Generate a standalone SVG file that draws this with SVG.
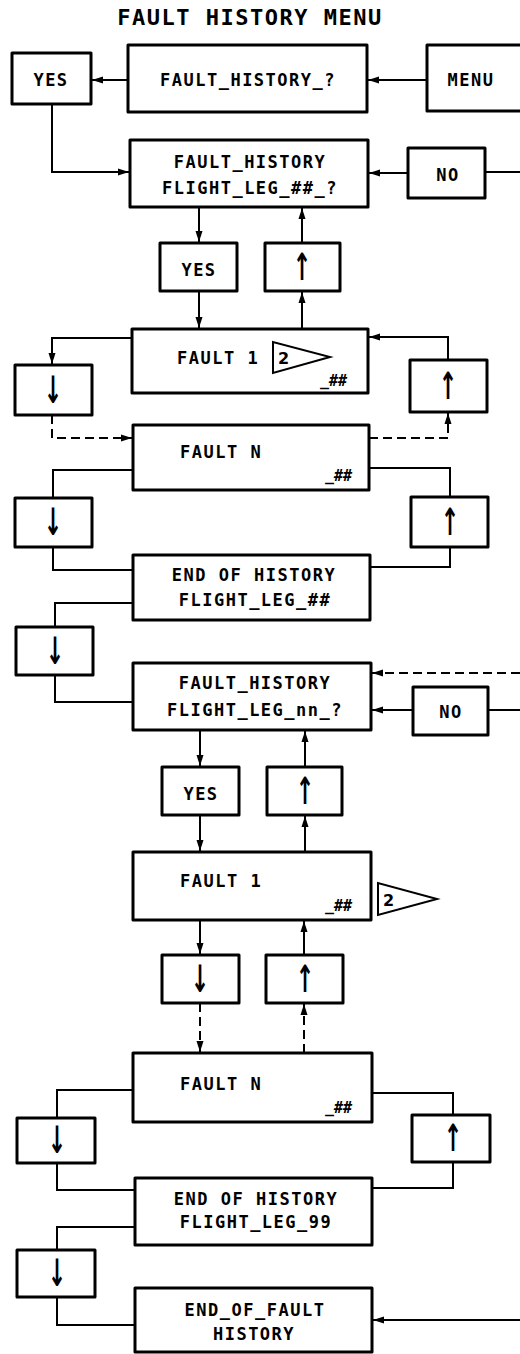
<svg xmlns="http://www.w3.org/2000/svg" width="520" height="1354" viewBox="0 0 520 1354">
<style>
.bg{fill:#fff}
.box{fill:#fff;stroke:#000;stroke-width:3;stroke-linejoin:round}
.t{font-family:"DejaVu Sans Mono","Liberation Mono",monospace;font-weight:bold;font-size:17px;letter-spacing:1.5px;fill:#000}
.c{text-anchor:middle}
.hh{font-family:"DejaVu Sans Mono","Liberation Mono",monospace;font-weight:bold;font-style:italic;font-size:15px;fill:#000;text-anchor:end}
.ar{font-family:"DejaVu Sans","Liberation Sans",sans-serif;font-weight:bold;font-size:26px;fill:#000;text-anchor:middle}
.title{font-family:"DejaVu Sans Mono","Liberation Mono",monospace;font-weight:bold;font-size:22px;letter-spacing:1.5px;fill:#000;text-anchor:middle}
.tri{fill:#fff;stroke:#000;stroke-width:2;stroke-linejoin:miter}
.two{font-family:"DejaVu Sans","Liberation Sans",sans-serif;font-weight:bold;font-size:16px;fill:#000}
.ln{fill:none;stroke:#000;stroke-width:2}
.dl{fill:none;stroke:#000;stroke-width:2;stroke-dasharray:9 5}
</style>
<defs>
<marker id="ah" markerUnits="userSpaceOnUse" markerWidth="12" markerHeight="8" refX="11" refY="4" orient="auto">
<path d="M0,0.5 L11,4 L0,7.5 z" fill="#000"/>
</marker>
</defs>
<rect class="bg" x="0" y="0" width="520" height="1354"/>
<text id="title" class="title" x="250" y="25">FAULT HISTORY MENU</text>

<g id="connectors">
<path class="ln" d="M427,80 L368,80" marker-end="url(#ah)"/>
<path class="ln" d="M128,80 L92,80" marker-end="url(#ah)"/>
<path class="ln" d="M52,104 L52,172 L129,172" marker-end="url(#ah)"/>
<path class="ln" d="M408,173 L369,173" marker-end="url(#ah)"/>
<path class="ln" d="M485,172 L520,172"/>
<path class="ln" d="M199,207 L199,242" marker-end="url(#ah)"/>
<path class="ln" d="M302,243 L302,208" marker-end="url(#ah)"/>
<path class="ln" d="M199,291 L199,328" marker-end="url(#ah)"/>
<path class="ln" d="M302,329 L302,292" marker-end="url(#ah)"/>
<path class="ln" d="M132,338 L52,338 L52,364" marker-end="url(#ah)"/>
<path class="ln" d="M448,360 L448,337 L369,337" marker-end="url(#ah)"/>
<path class="dl" d="M52,415 L52,438 L132,438" marker-end="url(#ah)"/>
<path class="dl" d="M369,438 L448,438 L448,413" marker-end="url(#ah)"/>
<path class="ln" d="M133,470 L53,470 L53,498"/>
<path class="ln" d="M369,468 L450,468 L450,497"/>
<path class="ln" d="M53,547 L53,570 L133,570"/>
<path class="ln" d="M450,547 L450,567 L370,567"/>
<path class="ln" d="M133,603 L55,603 L55,627"/>
<path class="ln" d="M55,675 L55,702 L133,702"/>
<path class="dl" d="M520,673 L372,673" marker-end="url(#ah)"/>
<path class="ln" d="M413,710 L372,710" marker-end="url(#ah)"/>
<path class="ln" d="M488,710 L520,710"/>
<path class="ln" d="M200,730 L200,766" marker-end="url(#ah)"/>
<path class="ln" d="M305,767 L305,731" marker-end="url(#ah)"/>
<path class="ln" d="M200,815 L200,851" marker-end="url(#ah)"/>
<path class="ln" d="M305,852 L305,816" marker-end="url(#ah)"/>
<path class="ln" d="M200,920 L200,954" marker-end="url(#ah)"/>
<path class="ln" d="M304,955 L304,921" marker-end="url(#ah)"/>
<path class="dl" d="M200,1003 L200,1052" marker-end="url(#ah)"/>
<path class="dl" d="M304,1053 L304,1004" marker-end="url(#ah)"/>
<path class="ln" d="M133,1090 L57,1090 L57,1118"/>
<path class="ln" d="M372,1093 L453,1093 L453,1115"/>
<path class="ln" d="M57,1163 L57,1190 L135,1190"/>
<path class="ln" d="M453,1162 L453,1188 L372,1188"/>
<path class="ln" d="M135,1227 L57,1227 L57,1250"/>
<path class="ln" d="M57,1297 L57,1325 L135,1325"/>
<path class="ln" d="M520,1320 L373,1320" marker-end="url(#ah)"/>
</g>

<g id="n_yes1"><rect class="box" x="12" y="53" width="79" height="51"/><text class="t c" x="51" y="86">YES</text></g>
<g id="n_fh"><rect class="box" x="128" y="45" width="239" height="67"/><text class="t c" x="248" y="86">FAULT_HISTORY_?</text></g>
<g id="n_menu"><rect class="box" x="427" y="45" width="110" height="66"/><text class="t c" x="471" y="86">MENU</text></g>

<g id="n_fhleg"><rect class="box" x="130" y="140" width="238" height="67"/><text class="t c" x="250" y="168">FAULT_HISTORY</text><text class="t c" x="250" y="194">FLIGHT_LEG_##_?</text></g>
<g id="n_no1"><rect class="box" x="408" y="148" width="77" height="50"/><text class="t c" x="448" y="181">NO</text></g>

<g id="n_yes2"><rect class="box" x="160" y="243" width="77" height="48"/><text class="t c" x="199" y="276">YES</text></g>
<g id="n_up1"><rect class="box" x="265" y="243" width="75" height="48"/><text class="ar" transform="translate(302,267) scale(0.85,1.45)" x="0" y="9">↑</text></g>

<g id="n_fault1"><rect class="box" x="132" y="329" width="236" height="64"/><text class="t" x="177" y="364">FAULT 1</text>
<polygon class="tri" points="273,342 273,373 330,357"/><text class="two" x="278" y="364">2</text>
<text class="hh" x="347" y="386">_##</text></g>
<g id="n_l1"><rect class="box" x="15" y="365" width="77" height="50"/><text class="ar" transform="translate(53,390) scale(0.85,1.45)" x="0" y="9">↓</text></g>
<g id="n_r1"><rect class="box" x="410" y="360" width="77" height="52"/><text class="ar" transform="translate(448,386) scale(0.85,1.45)" x="0" y="9">↑</text></g>

<g id="n_faultn"><rect class="box" x="133" y="425" width="236" height="65"/><text class="t" x="180" y="458">FAULT N</text><text class="hh" x="352" y="481">_##</text></g>
<g id="n_l2"><rect class="box" x="15" y="498" width="77" height="49"/><text class="ar" transform="translate(53,522) scale(0.85,1.45)" x="0" y="9">↓</text></g>
<g id="n_r2"><rect class="box" x="411" y="497" width="77" height="50"/><text class="ar" transform="translate(450,522) scale(0.85,1.45)" x="0" y="9">↑</text></g>

<g id="n_end1"><rect class="box" x="133" y="555" width="237" height="65"/><text class="t c" x="254" y="581">END OF HISTORY</text><text class="t c" x="255" y="606">FLIGHT_LEG_##</text></g>
<g id="n_l3"><rect class="box" x="16" y="627" width="77" height="48"/><text class="ar" transform="translate(55,651) scale(0.85,1.45)" x="0" y="9">↓</text></g>

<g id="n_fhleg2"><rect class="box" x="133" y="663" width="238" height="67"/><text class="t c" x="255" y="689">FAULT_HISTORY</text><text class="t c" x="255" y="716">FLIGHT_LEG_nn_?</text></g>
<g id="n_no2"><rect class="box" x="413" y="687" width="75" height="48"/><text class="t c" x="451" y="718">NO</text></g>

<g id="n_yes3"><rect class="box" x="162" y="767" width="77" height="48"/><text class="t c" x="201" y="800">YES</text></g>
<g id="n_up2"><rect class="box" x="267" y="767" width="75" height="48"/><text class="ar" transform="translate(305,791) scale(0.85,1.45)" x="0" y="9">↑</text></g>

<g id="n_fault1b"><rect class="box" x="133" y="852" width="238" height="68"/><text class="t" x="180" y="887">FAULT 1</text><text class="hh" x="352" y="911">_##</text></g>
<g id="n_tri2"><polygon class="tri" points="378,883 378,915 437,899"/><text class="two" x="383" y="906">2</text></g>
<g id="n_dm"><rect class="box" x="162" y="955" width="77" height="48"/><text class="ar" transform="translate(200,979) scale(0.85,1.45)" x="0" y="9">↓</text></g>
<g id="n_um"><rect class="box" x="266" y="955" width="77" height="48"/><text class="ar" transform="translate(305,979) scale(0.85,1.45)" x="0" y="9">↑</text></g>

<g id="n_faultn2"><rect class="box" x="133" y="1053" width="239" height="69"/><text class="t" x="180" y="1090">FAULT N</text><text class="hh" x="352" y="1113">_##</text></g>
<g id="n_l4"><rect class="box" x="17" y="1118" width="78" height="45"/><text class="ar" transform="translate(57,1140) scale(0.85,1.45)" x="0" y="9">↓</text></g>
<g id="n_r3"><rect class="box" x="412" y="1115" width="78" height="47"/><text class="ar" transform="translate(453,1138) scale(0.85,1.45)" x="0" y="9">↑</text></g>

<g id="n_end2"><rect class="box" x="135" y="1178" width="237" height="67"/><text class="t c" x="256" y="1205">END OF HISTORY</text><text class="t c" x="256" y="1228">FLIGHT_LEG_99</text></g>
<g id="n_l5"><rect class="box" x="17" y="1250" width="78" height="47"/><text class="ar" transform="translate(57,1273) scale(0.85,1.45)" x="0" y="9">↓</text></g>

<g id="n_endfault"><rect class="box" x="135" y="1288" width="237" height="64"/><text class="t c" x="255" y="1316">END_OF_FAULT</text><text class="t c" x="254" y="1340">HISTORY</text></g>
</svg>
